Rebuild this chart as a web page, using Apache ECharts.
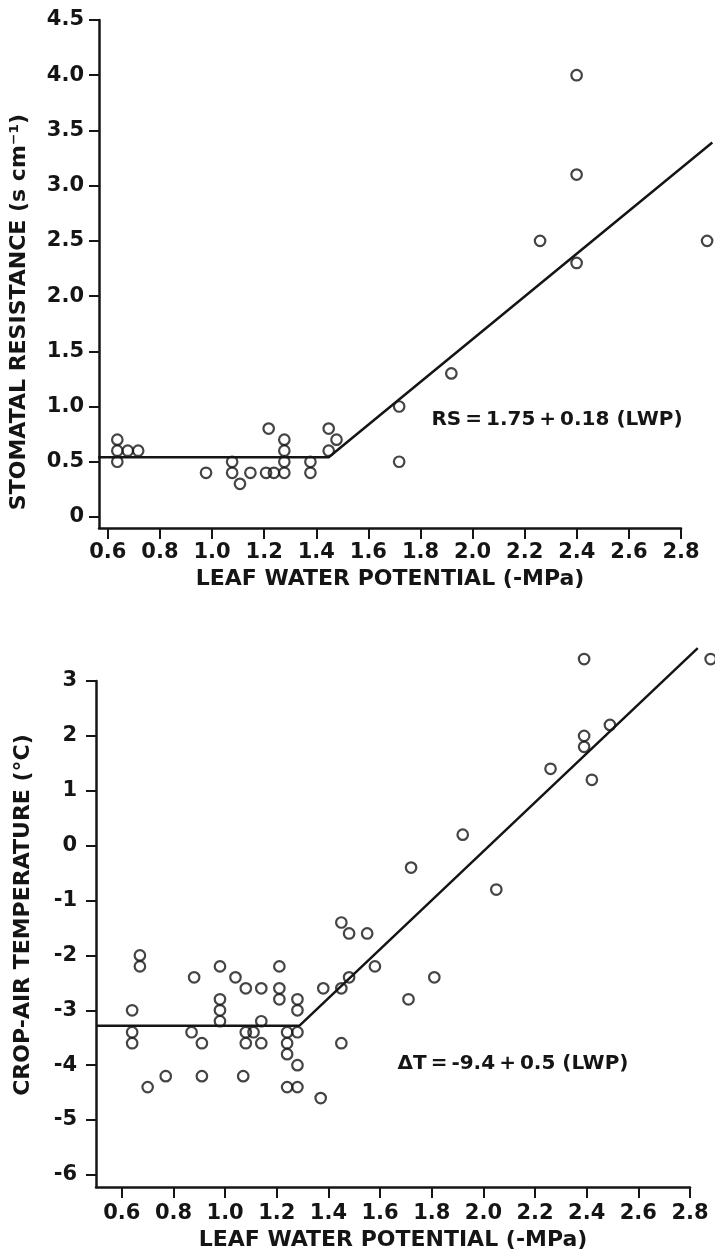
<!DOCTYPE html>
<html>
<head>
    <meta charset="utf-8" />
    <title>Leaf water potential</title>
    <script src="https://cdn.jsdelivr.net/npm/echarts@6.0.0/dist/echarts.min.js"></script>
    <style>
        html, body { margin: 0; padding: 0; background: #fff; }
        #chart { width: 715px; height: 1258px; }
    </style>
</head>
<body>
    <div id="chart"></div>
    <script type="text/javascript">
        // top panel: stomatal resistance vs leaf water potential
        var rsLwp = [0.64, 0.64, 0.64, 0.68, 0.72, 0.98, 1.08, 1.08, 1.11, 1.15,
            1.22, 1.21, 1.24, 1.28, 1.28, 1.28, 1.28, 1.38, 1.38, 1.45,
            1.45, 1.48, 1.72, 1.72, 1.92, 2.26, 2.40, 2.40, 2.40, 2.90];
        var rsVals = [0.7, 0.6, 0.5, 0.6, 0.6, 0.4, 0.5, 0.4, 0.3, 0.4,
            0.8, 0.4, 0.4, 0.4, 0.5, 0.6, 0.7, 0.5, 0.4, 0.6,
            0.8, 0.7, 1.0, 0.5, 1.3, 2.5, 2.3, 3.1, 4.0, 2.5];
        var rsFitX = [0.566, 1.45, 2.92];
        var rsFitY = [0.54, 0.54, 3.39];

        // bottom panel: crop-air temperature vs leaf water potential
        var dtLwp = [0.67, 0.67, 0.64, 0.64, 0.64, 0.77, 0.88, 0.87, 0.91, 0.91,
            0.98, 0.98, 0.98, 0.98, 1.04, 1.08, 1.08, 1.08, 1.07, 1.11,
            1.14, 1.14, 1.14, 1.21, 1.21, 1.21, 1.24, 1.24, 1.24, 1.28,
            1.28, 1.28, 1.28, 1.38, 1.45, 1.45, 1.45, 1.48, 1.55, 1.48,
            1.58, 0.70, 1.24, 1.28, 1.37, 2.39, 2.88, 2.49, 2.39, 2.39,
            2.26, 2.42, 1.92, 1.72, 2.05, 1.81, 1.71];
        var dtVals = [-2.0, -2.2, -3.0, -3.4, -3.6, -4.2, -2.4, -3.4, -3.6, -4.2,
            -2.2, -2.8, -3.0, -3.2, -2.4, -2.6, -3.4, -3.6, -4.2, -3.4,
            -2.6, -3.2, -3.6, -2.2, -2.6, -2.8, -3.4, -3.6, -3.8, -2.8,
            -3.0, -3.4, -4.0, -2.6, -2.6, -3.6, -1.4, -1.6, -1.6, -2.4,
            -2.2, -4.4, -4.4, -4.4, -4.6, 3.4, 3.4, 2.2, 2.0, 1.8,
            1.4, 1.2, 0.2, -0.4, -0.8, -2.4, -2.8];
        var dtFitX = [0.5, 1.288, 2.83];
        var dtFitY = [-3.28, -3.28, 3.6];

        // tick labels
        var lwpTicks = [0.6, 0.8, 1.0, 1.2, 1.4, 1.6, 1.8, 2.0, 2.2, 2.4, 2.6, 2.8];
        var rsTicks = [0, 0.5, 1.0, 1.5, 2.0, 2.5, 3.0, 3.5, 4.0, 4.5];
        var dtTicks = [-6, -5, -4, -3, -2, -1, 0, 1, 2, 3];

        function pairs(xs, ys) {
            var out = [];
            for (var i = 0; i < xs.length; i++) {
                out.push([xs[i], ys[i]]);
            }
            return out;
        }

        var W = 715;
        var ink = '#151515';
        var font = 'DejaVu Sans';
        var tickFont = { color: ink, fontFamily: font, fontSize: 21, fontWeight: 'bold' };
        var nameFont = { color: ink, fontFamily: font, fontSize: 22, fontWeight: 'bold' };
        var axisLineStyle = { color: ink, width: 2.5 };

        // panel boxes (the drawn axes) - marks sit in a wider hidden grid with the same scale
        var topBox = { left: 98, top: 20, width: 583, height: 508, xMin: 0.566, xMax: 2.8, yMin: -0.1, yMax: 4.5 };
        var botBox = { left: 96, top: 681, width: 594, height: 506, xMin: 0.5, xMax: 2.8, yMin: -6.22, yMax: 3 };

        function wideMax(b) {
            return b.xMin + (W - b.left) * (b.xMax - b.xMin) / b.width;
        }

        function lwpAxis(grid, b, gap, margin) {
            return {
                type: 'value',
                gridIndex: grid,
                min: b.xMin,
                max: b.xMax,
                name: 'LEAF WATER POTENTIAL (-MPa)',
                nameLocation: 'middle',
                nameGap: gap,
                nameTextStyle: nameFont,
                splitLine: { show: false },
                axisLine: { show: true, onZero: false, lineStyle: axisLineStyle },
                axisTick: { show: true, customValues: lwpTicks, length: 11, lineStyle: { color: ink, width: 2 } },
                axisLabel: Object.assign({
                    customValues: lwpTicks,
                    margin: margin,
                    formatter: function (v) { return v.toFixed(1); }
                }, tickFont)
            };
        }

        function hiddenX(grid, b) {
            return { type: 'value', gridIndex: grid, min: b.xMin, max: wideMax(b), show: false, splitLine: { show: false } };
        }

        function hiddenY(grid, b) {
            return { type: 'value', gridIndex: grid, min: b.yMin, max: b.yMax, show: false, splitLine: { show: false } };
        }

        var circleStyle = { color: 'transparent', borderColor: ink, borderWidth: 2.2 };
        var fitStyle = { color: ink, width: 2.5 };
        var noteStyle = { fontFamily: font, fontSize: 20, fontWeight: 'bold', fill: ink, align: 'center', verticalAlign: 'middle' };

        var option = {
            backgroundColor: '#fff',
            animation: false,
            grid: [
                { left: topBox.left, top: topBox.top, width: topBox.width, height: topBox.height },
                { left: botBox.left, top: botBox.top, width: botBox.width, height: botBox.height },
                { left: topBox.left, top: topBox.top, width: W - topBox.left, height: topBox.height },
                { left: botBox.left, top: botBox.top, width: W - botBox.left, height: botBox.height }
            ],
            xAxis: [
                lwpAxis(0, topBox, 40, 14),
                lwpAxis(1, botBox, 42, 16),
                hiddenX(2, topBox),
                hiddenX(3, botBox)
            ],
            yAxis: [
                {
                    type: 'value',
                    gridIndex: 0,
                    min: topBox.yMin,
                    max: topBox.yMax,
                    name: 'STOMATAL RESISTANCE (s cm⁻¹)',
                    nameLocation: 'middle',
                    nameGap: 69,
                    nameTextStyle: Object.assign({ padding: [0, 76, 0, 0] }, nameFont),
                    splitLine: { show: false },
                    axisLine: { show: true, onZero: false, lineStyle: axisLineStyle },
                    axisTick: { show: true, customValues: rsTicks, length: 10, lineStyle: { color: ink, width: 2 } },
                    axisLabel: Object.assign({
                        customValues: rsTicks,
                        margin: 15,
                        formatter: function (v) { return v === 0 ? '0' : v.toFixed(1); }
                    }, tickFont)
                },
                {
                    type: 'value',
                    gridIndex: 1,
                    min: botBox.yMin,
                    max: botBox.yMax,
                    name: 'CROP-AIR TEMPERATURE (°C)',
                    nameLocation: 'middle',
                    nameGap: 62,
                    nameTextStyle: Object.assign({ padding: [0, 0, 0, 38] }, nameFont),
                    splitLine: { show: false },
                    axisLine: { show: true, onZero: false, lineStyle: axisLineStyle },
                    axisTick: { show: true, customValues: dtTicks, length: 10, lineStyle: { color: ink, width: 2 } },
                    axisLabel: Object.assign({
                        customValues: dtTicks,
                        margin: 19,
                        formatter: function (v) { return String(v); }
                    }, tickFont)
                },
                hiddenY(2, topBox),
                hiddenY(3, botBox)
            ],
            series: [
                {
                    type: 'line',
                    xAxisIndex: 2,
                    yAxisIndex: 2,
                    data: pairs(rsFitX, rsFitY),
                    symbol: 'none',
                    clip: false,
                    lineStyle: fitStyle
                },
                {
                    type: 'scatter',
                    xAxisIndex: 2,
                    yAxisIndex: 2,
                    data: pairs(rsLwp, rsVals),
                    symbol: 'circle',
                    symbolSize: 10.5,
                    clip: false,
                    itemStyle: circleStyle
                },
                {
                    type: 'line',
                    xAxisIndex: 3,
                    yAxisIndex: 3,
                    data: pairs(dtFitX, dtFitY),
                    symbol: 'none',
                    clip: false,
                    lineStyle: fitStyle
                },
                {
                    type: 'scatter',
                    xAxisIndex: 3,
                    yAxisIndex: 3,
                    data: pairs(dtLwp, dtVals),
                    symbol: 'circle',
                    symbolSize: 10.5,
                    clip: false,
                    itemStyle: circleStyle
                }
            ],
            graphic: [
                {
                    type: 'text',
                    x: 557,
                    y: 420,
                    style: Object.assign({ text: 'RS\u2009=\u20091.75\u2009+\u20090.18 (LWP)' }, noteStyle)
                },
                {
                    type: 'text',
                    x: 513,
                    y: 1064,
                    style: Object.assign({ text: 'ΔT\u2009=\u2009-9.4\u2009+\u20090.5 (LWP)' }, noteStyle)
                }
            ]
        };

        var chart = echarts.init(document.getElementById('chart'));
        chart.setOption(option);
    </script>
</body>
</html>
